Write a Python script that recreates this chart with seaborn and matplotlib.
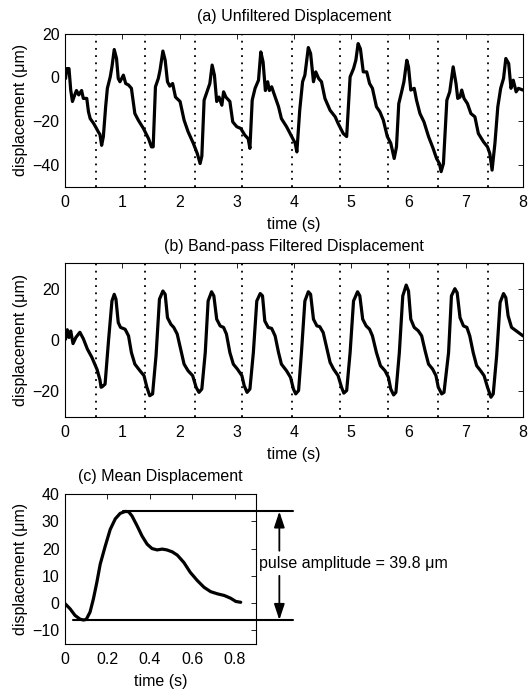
import numpy as np
import pandas as pd
import matplotlib
matplotlib.use("Agg")
import matplotlib.pyplot as plt
import seaborn as sns

# ---------------- data ----------------
time_a = [0.01, 0.03, 0.07, 0.10, 0.13, 0.17, 0.20, 0.24, 0.29, 0.32, 0.38, 0.41, 0.44, 0.50, 0.55, 0.58,
          0.61, 0.64, 0.67, 0.71, 0.74, 0.79, 0.82, 0.86, 0.90, 0.93, 0.96, 1.02, 1.06, 1.11, 1.16, 1.22,
          1.28, 1.37, 1.46, 1.51, 1.54, 1.58, 1.63, 1.66, 1.71, 1.75, 1.79, 1.83, 1.88, 1.93, 2.01, 2.08,
          2.15, 2.24, 2.31, 2.36, 2.39, 2.43, 2.49, 2.53, 2.57, 2.61, 2.65, 2.69, 2.74, 2.77, 2.81, 2.88,
          2.93, 3.00, 3.07, 3.14, 3.20, 3.23, 3.27, 3.32, 3.38, 3.42, 3.46, 3.50, 3.54, 3.57, 3.61, 3.65,
          3.73, 3.78, 3.87, 3.96, 4.02, 4.05, 4.10, 4.15, 4.19, 4.25, 4.29, 4.34, 4.38, 4.43, 4.48, 4.54,
          4.63, 4.72, 4.77, 4.86, 4.92, 4.98, 5.04, 5.08, 5.12, 5.16, 5.21, 5.27, 5.32, 5.37, 5.44, 5.50,
          5.56, 5.63, 5.69, 5.75, 5.79, 5.83, 5.88, 5.92, 5.97, 6.00, 6.04, 6.10, 6.14, 6.20, 6.27, 6.35,
          6.43, 6.49, 6.54, 6.57, 6.61, 6.67, 6.72, 6.78, 6.83, 6.86, 6.90, 6.93, 6.97, 7.03, 7.09, 7.16,
          7.22, 7.31, 7.38, 7.42, 7.46, 7.51, 7.56, 7.61, 7.66, 7.70, 7.75, 7.79, 7.83, 7.88, 7.92, 8.00]
disp_a = [-0.5, 4.0, 4.0, -5.8, -11.0, -8.0, -6.0, -8.0, -6.0, -9.6, -9.6, -15.7, -18.8, -21.0, -23.3, -24.8,
          -26.0, -31.0, -27.0, -13.4, -5.0, 0.2, 4.8, 12.7, 8.6, -0.5, -2.0, 1.0, -2.8, -3.5, -5.0, -16.5,
          -19.5, -23.3, -28.0, -31.7, -31.7, -4.3, -0.5, 3.3, 12.0, 7.8, -2.0, -4.0, -2.8, -9.0, -11.0, -19.5,
          -24.8, -30.0, -34.7, -39.3, -36.0, -10.4, -5.8, -2.8, 5.6, 1.0, -11.0, -9.0, -12.7, -6.6, -9.0, -11.0,
          -20.3, -22.5, -23.3, -26.3, -28.0, -32.4, -10.4, -5.0, -1.3, 11.6, 7.0, -6.0, -2.0, -6.0, -4.3, -7.4,
          -13.4, -18.8, -22.5, -27.0, -30.0, -34.0, -15.0, -2.0, 1.0, 13.6, 10.9, -2.0, 2.5, -0.5, -2.0, -9.6,
          -15.0, -18.0, -21.0, -25.6, -27.0, 0.2, 4.0, 7.8, 15.4, 13.0, 2.5, 2.5, -2.8, -5.0, -13.4, -15.7,
          -19.5, -27.0, -30.0, -37.0, -31.7, -12.0, -6.6, -2.0, 7.8, 4.8, -5.8, -5.0, -10.4, -16.5, -20.3, -27.0,
          -32.4, -37.0, -39.3, -43.0, -39.3, -10.4, -6.6, 4.8, -2.8, -9.6, -9.0, -5.8, -9.6, -12.0, -16.5, -18.0,
          -25.6, -29.4, -31.7, -34.7, -42.3, -30.0, -13.4, -5.0, -0.5, 8.6, 6.3, -5.0, -1.3, -6.6, -5.0, -5.8]

time_b = [0.01, 0.04, 0.07, 0.10, 0.14, 0.19, 0.26, 0.32, 0.39, 0.47, 0.52, 0.56, 0.61, 0.63, 0.65, 0.70,
          0.76, 0.82, 0.86, 0.89, 0.93, 0.97, 1.05, 1.11, 1.16, 1.22, 1.31, 1.38, 1.43, 1.48, 1.53, 1.59,
          1.65, 1.71, 1.75, 1.79, 1.85, 1.90, 1.96, 2.02, 2.08, 2.15, 2.23, 2.29, 2.34, 2.39, 2.45, 2.50,
          2.56, 2.60, 2.65, 2.71, 2.77, 2.82, 2.88, 2.94, 3.01, 3.09, 3.13, 3.18, 3.23, 3.29, 3.35, 3.41,
          3.45, 3.49, 3.55, 3.61, 3.67, 3.73, 3.78, 3.87, 3.94, 3.99, 4.03, 4.08, 4.13, 4.19, 4.25, 4.29,
          4.34, 4.40, 4.45, 4.51, 4.57, 4.63, 4.69, 4.77, 4.83, 4.87, 4.92, 4.98, 5.04, 5.11, 5.15, 5.20,
          5.26, 5.32, 5.37, 5.44, 5.51, 5.59, 5.65, 5.69, 5.74, 5.78, 5.84, 5.90, 5.96, 6.00, 6.04, 6.10,
          6.17, 6.23, 6.29, 6.35, 6.42, 6.48, 6.52, 6.58, 6.62, 6.70, 6.75, 6.81, 6.85, 6.90, 6.96, 7.02,
          7.07, 7.13, 7.19, 7.26, 7.32, 7.38, 7.44, 7.48, 7.54, 7.60, 7.66, 7.70, 7.74, 7.80, 7.88, 8.00]
disp_b = [0.3, 4.0, 1.0, 3.5, -1.4, 1.0, 3.0, 0.5, -3.5, -6.8, -9.4, -11.5, -15.5, -18.4, -18.2, -17.2,
          -0.3, 15.2, 17.8, 15.9, 6.8, 4.9, 4.2, 1.6, -4.9, -9.4, -12.0, -13.9, -18.4, -21.7, -21.0, -6.1,
          15.9, 19.1, 17.8, 8.7, 6.1, 4.9, 2.3, -3.6, -9.4, -12.0, -13.9, -18.4, -20.4, -19.1, -4.9, 15.2,
          18.8, 17.2, 8.1, 5.5, 4.9, 2.3, -4.9, -9.4, -11.3, -13.9, -17.8, -20.4, -19.1, -4.9, 15.2, 18.1,
          17.2, 7.4, 4.9, 4.5, 1.6, -4.9, -9.4, -12.0, -14.6, -19.1, -21.0, -19.7, -4.9, 15.2, 18.8, 17.8,
          8.1, 5.5, 5.2, 2.9, -2.9, -8.7, -11.3, -13.9, -18.4, -20.7, -19.7, -4.9, 15.2, 18.8, 17.2, 8.1,
          5.5, 4.2, 1.6, -4.9, -10.0, -12.0, -14.6, -19.1, -21.4, -20.4, -4.9, 17.2, 21.4, 19.1, 8.1, 4.9,
          3.6, 1.6, -4.2, -9.4, -11.3, -13.9, -18.4, -21.0, -20.4, -4.9, 17.2, 20.0, 18.4, 8.7, 5.5, 4.9,
          1.6, -4.9, -10.0, -12.0, -13.9, -18.4, -22.3, -21.0, -6.1, 14.6, 18.1, 16.5, 9.4, 4.9, 3.6, 1.6]

beat_times = [0.54, 1.40, 2.27, 3.10, 3.96, 4.80, 5.65, 6.52, 7.38]

time_c = [0.000, 0.024, 0.047, 0.071, 0.087, 0.100, 0.118, 0.134, 0.150, 0.166, 0.190, 0.213, 0.237,
          0.260, 0.284, 0.300, 0.316, 0.340, 0.363, 0.387, 0.410, 0.434, 0.458, 0.480, 0.505, 0.529,
          0.560, 0.590, 0.623, 0.655, 0.686, 0.718, 0.750, 0.780, 0.805, 0.828]
disp_c = [-0.2, -2.1, -4.5, -5.9, -6.2, -6.0, -3.3, 1.6, 7.6, 14.3, 21.0, 27.0, 30.9,
          32.9, 33.6, 33.5, 31.9, 28.3, 24.6, 21.6, 20.0, 19.5, 19.8, 19.5, 18.8, 17.6,
          14.9, 11.3, 8.3, 5.8, 4.2, 3.4, 2.8, 1.8, 0.6, 0.3]

xticks_ab = [0, 1, 2, 3, 4, 5, 6, 7, 8]
yticks_a = [-40, -20, 0, 20]
yticks_b = [-20, 0, 20]
xticks_c = [0, 0.2, 0.4, 0.6, 0.8]
xticklabels_c = ["0", "0.2", "0.4", "0.6", "0.8"]
yticks_c = [-10, 0, 10, 20, 30, 40]

titles = ["(a) Unfiltered Displacement", "(b) Band-pass Filtered Displacement", "(c) Mean Displacement"]
xlabel = "time (s)"
ylabel = "displacement (\u03bcm)"
amplitude_value = 39.8

# ---------------- style ----------------
FS = 11.5
sns.set_style("white")
plt.rcParams.update({
    "font.family": ["Liberation Sans", "DejaVu Sans"],
    "font.size": FS,
    "axes.edgecolor": "black",
    "axes.linewidth": 0.8,
    "xtick.direction": "in",
    "ytick.direction": "in",
    "xtick.top": True,
    "ytick.right": True,
    "xtick.major.size": 3.5,
    "ytick.major.size": 3.5,
    "xtick.major.width": 0.6,
    "ytick.major.width": 0.6,
    "xtick.major.pad": 5.5,
    "ytick.major.pad": 4,
    "xtick.labelsize": FS,
    "ytick.labelsize": FS,
    "axes.labelsize": FS,
    "xtick.color": "black",
    "ytick.color": "black",
    "text.color": "black",
    "axes.labelcolor": "black",
})

W, H = 531, 694
fig = plt.figure(figsize=(W / 100, H / 100), dpi=100)

def frac(left, top, right, bottom):
    return [left / W, 1 - bottom / H, (right - left) / W, (bottom - top) / H]

ax_a = fig.add_axes(frac(65, 33.5, 523, 187))
ax_b = fig.add_axes(frac(65, 263, 523, 417))
ax_c = fig.add_axes(frac(65, 494, 256, 644))

df_a = pd.DataFrame({"t": time_a, "d": disp_a})
df_b = pd.DataFrame({"t": time_b, "d": disp_b})
df_c = pd.DataFrame({"t": time_c, "d": disp_c})

LW = 2.3
for ax, df, yt, ylim, title in [(ax_a, df_a, yticks_a, (-50, 20), titles[0]),
                                (ax_b, df_b, yticks_b, (-30, 30), titles[1])]:
    for bt in beat_times:
        ax.axvline(bt, color="black", linestyle=(0, (1, 3)), lw=1.3, zorder=1)
    sns.lineplot(data=df, x="t", y="d", ax=ax, color="black", lw=LW, sort=False,
                 estimator=None, zorder=3)
    ax.set_xlim(0, 8)
    ax.set_ylim(*ylim)
    ax.set_xticks(xticks_ab)
    ax.set_yticks(yt)
    ax.set_xlabel(xlabel, labelpad=5)
    ax.set_ylabel(ylabel, labelpad=3)
    ax.set_title(title, fontsize=FS, pad=9)
    for s in ax.spines.values():
        s.set_visible(True)

sns.lineplot(data=df_c, x="t", y="d", ax=ax_c, color="black", lw=LW, sort=False,
             estimator=None, zorder=3)
ax_c.set_xlim(0, 0.9)
ax_c.set_ylim(-15, 40)
ax_c.set_xticks(xticks_c)
ax_c.set_xticklabels(xticklabels_c)
ax_c.set_yticks(yticks_c)
ax_c.set_xlabel(xlabel, labelpad=5)
ax_c.set_ylabel(ylabel, labelpad=3)
ax_c.set_title(titles[2], fontsize=FS, pad=9)
for s in ax_c.spines.values():
    s.set_visible(True)

# amplitude annotation
i_pk = int(np.argmax(disp_c))
i_tr = int(np.argmin(disp_c))
pk_t, pk_v = time_c[i_pk], disp_c[i_pk]
tr_t, tr_v = time_c[i_tr], disp_c[i_tr]
line_end = 1.076
arrow_x = 1.01
ax_c.plot([pk_t - 0.01, line_end], [pk_v, pk_v], color="black", lw=1.5, clip_on=False, zorder=4)
ax_c.plot([tr_t - 0.05, line_end], [tr_v, tr_v], color="black", lw=1.5, clip_on=False, zorder=4)
ap = dict(arrowstyle="-|>,head_length=0.6,head_width=0.2", color="black", lw=1.3,
          mutation_scale=16, shrinkA=0, shrinkB=0)
ax_c.annotate("", xy=(arrow_x, pk_v), xytext=(arrow_x, 19.2), arrowprops=ap, annotation_clip=False)
ax_c.annotate("", xy=(arrow_x, tr_v), xytext=(arrow_x, 10.0), arrowprops=ap, annotation_clip=False)
ax_c.text(0.915, 14.6, f"pulse amplitude = {amplitude_value} \u03bcm", ha="left", va="center",
          fontsize=FS, clip_on=False)

fig.savefig("out.png", dpi=100)
